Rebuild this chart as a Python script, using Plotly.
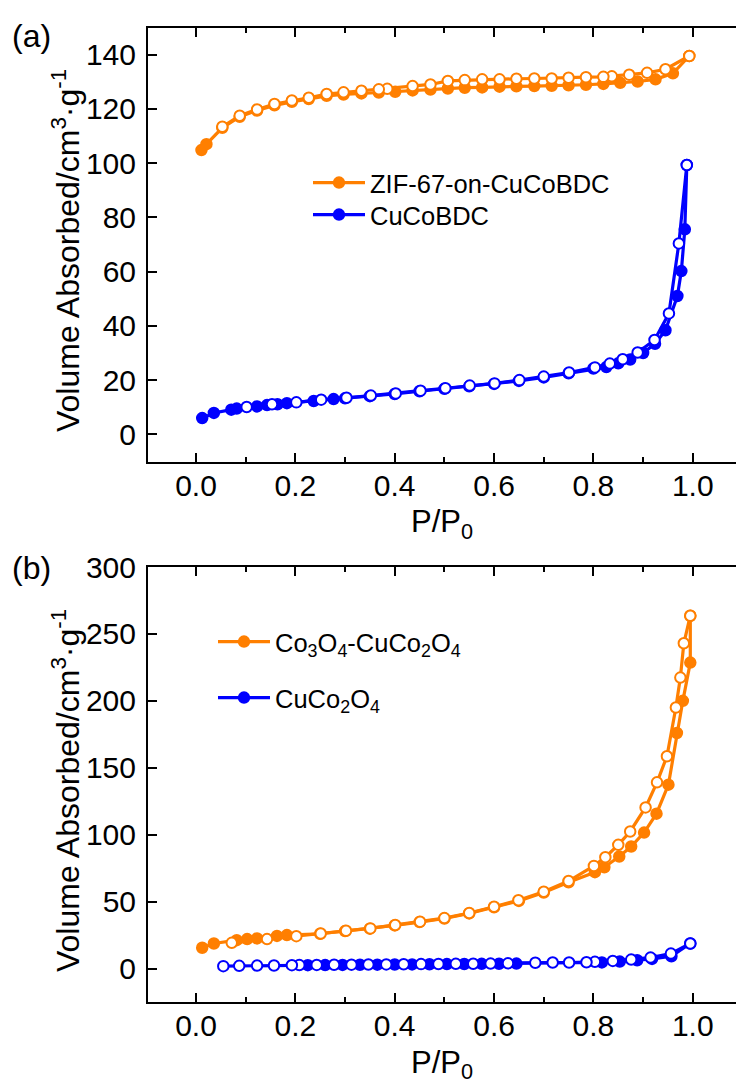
import plotly.graph_objects as go

# ---------------- Panel (a) data ----------------
zif_ads_p = [0.011, 0.021, 0.053, 0.088, 0.123, 0.158, 0.193, 0.227, 0.263, 0.297, 0.333, 0.368,
             0.401, 0.436, 0.472, 0.507, 0.541, 0.576, 0.611, 0.645, 0.681, 0.716, 0.75, 0.785,
             0.82, 0.854, 0.889, 0.925, 0.96, 0.993]
zif_ads_v = [104.8, 107.0, 113.0, 117.1, 119.4, 121.3, 122.6, 123.6, 124.8, 125.3, 125.7, 126.0,
             126.3, 126.8, 127.1, 127.5, 127.8, 127.9, 128.2, 128.3, 128.4, 128.5, 128.7, 128.9,
             129.2, 129.6, 130.1, 130.9, 133.1, 139.5]
zif_des_p = [0.993, 0.945, 0.908, 0.872, 0.837, 0.82, 0.785, 0.75, 0.716, 0.681, 0.645, 0.611,
             0.576, 0.541, 0.507, 0.472, 0.436, 0.385, 0.368, 0.333, 0.297, 0.263, 0.227, 0.193,
             0.158, 0.123, 0.088, 0.053]
zif_des_v = [139.5, 134.6, 133.3, 132.6, 132.0, 131.8, 131.7, 131.5, 131.2, 131.2, 131.1, 130.9,
             130.9, 130.6, 130.3, 129.0, 128.4, 127.4, 127.2, 126.7, 126.1, 125.5, 124.1, 123.1,
             121.8, 119.8, 117.5, 113.4]

cubdc_ads_p = [0.0125, 0.036, 0.071, 0.082, 0.123, 0.143, 0.164, 0.183, 0.237, 0.277, 0.30, 0.35,
               0.40, 0.45, 0.50, 0.55, 0.60, 0.65, 0.70, 0.75, 0.80, 0.826, 0.85, 0.874, 0.90,
               0.924, 0.945, 0.969, 0.977, 0.984, 0.988]
cubdc_ads_v = [6.0, 7.9, 9.1, 9.5, 10.3, 10.8, 11.1, 11.5, 12.3, 13.0, 13.3, 14.1,
               14.9, 15.9, 16.8, 17.7, 18.6, 19.7, 21.0, 22.5, 24.3, 24.8, 26.2, 27.6, 30.0,
               33.4, 38.4, 51.0, 60.2, 75.6, 99.3]
cubdc_des_p = [0.988, 0.972, 0.952, 0.923, 0.889, 0.859, 0.833, 0.803, 0.751, 0.70, 0.651, 0.601,
               0.551, 0.502, 0.452, 0.402, 0.352, 0.303, 0.252, 0.202, 0.153, 0.102]
cubdc_des_v = [99.3, 70.4, 44.6, 34.8, 30.2, 27.7, 26.1, 24.7, 22.8, 21.3, 20.0, 18.8,
               18.0, 17.0, 16.1, 15.1, 14.3, 13.5, 12.8, 11.8, 11.1, 10.1]

# ---------------- Panel (b) data ----------------
co3o4_ads_p = [0.0125, 0.036, 0.082, 0.103, 0.123, 0.163, 0.183, 0.25, 0.30, 0.35, 0.40, 0.45,
               0.50, 0.55, 0.60, 0.65, 0.70, 0.75, 0.803, 0.822, 0.852, 0.876, 0.902, 0.927,
               0.951, 0.968, 0.98, 0.995, 0.995]
co3o4_ads_v = [15.5, 18.7, 21.2, 22.0, 22.5, 24.4, 25.0, 26.0, 28.0, 29.8, 32.2, 34.7,
               37.4, 41.2, 45.8, 50.5, 56.8, 64.5, 72.0, 75.7, 83.7, 91.2, 101.6, 115.7,
               137.4, 176.0, 200.0, 228.6, 263.6]
co3o4_des_p = [0.995, 0.982, 0.975, 0.966, 0.948, 0.928, 0.905, 0.874, 0.85, 0.824, 0.801, 0.75,
               0.70, 0.649, 0.60, 0.55, 0.50, 0.451, 0.401, 0.351, 0.302, 0.251, 0.202, 0.143,
               0.072]
co3o4_des_v = [263.6, 243.0, 217.4, 195.0, 158.6, 139.1, 120.4, 102.4, 92.4, 83.2, 76.7, 65.4,
               57.4, 51.0, 46.2, 41.5, 37.7, 35.0, 32.5, 30.0, 28.2, 26.2, 24.2, 22.0,
               19.2]

cuco_ads_p = [0.225, 0.26, 0.295, 0.33, 0.365, 0.40, 0.435, 0.47, 0.505, 0.54, 0.575, 0.61,
              0.645, 0.817, 0.853, 0.888, 0.918, 0.957, 0.995]
cuco_ads_v = [2.5, 2.6, 2.7, 2.8, 2.9, 3.0, 3.1, 3.2, 3.3, 3.4, 3.5, 3.6,
              3.7, 4.6, 5.2, 6.2, 7.2, 9.2, 18.7]
cuco_des_p = [0.995, 0.956, 0.915, 0.876, 0.839, 0.803, 0.786, 0.751, 0.718, 0.683, 0.628, 0.593,
              0.558, 0.523, 0.488, 0.453, 0.418, 0.383, 0.347, 0.313, 0.278, 0.243, 0.208, 0.193,
              0.157, 0.123, 0.087, 0.055]
cuco_des_v = [18.7, 11.2, 8.2, 6.7, 5.7, 5.0, 4.7, 4.5, 4.5, 4.3, 3.9, 3.7,
              3.6, 3.5, 3.4, 3.3, 3.2, 3.1, 3.0, 2.9, 2.8, 2.7, 2.6, 2.5,
              2.3, 2.2, 2.0, 1.8]

y_ticks_a = [0, 20, 40, 60, 80, 100, 120, 140]
y_ticks_b = [0, 50, 100, 150, 200, 250, 300]
x_ticks = [0.0, 0.2, 0.4, 0.6, 0.8, 1.0]
y_title = "Volume Absorbed/cm<sup>3</sup>·g<sup>-1</sup>"
x_title = "P/P<sub>0</sub>"

ORANGE = "#FF7F00"
BLUE = "#0000FF"
FONT = "Liberation Sans, Arial, sans-serif"

fig = go.Figure()


def add(x, y, color, filled, xa, ya, name=None, legend=None):
    fig.add_trace(go.Scatter(
        x=x, y=y, mode="lines+markers", name=name,
        line=dict(color=color, width=3.2),
        marker=dict(symbol="circle", size=10.5,
                    color=color if filled else "white",
                    line=dict(color=color, width=2)),
        xaxis=xa, yaxis=ya,
        showlegend=legend is not None,
        legend=legend if legend is not None else "legend",
    ))


add(zif_ads_p, zif_ads_v, ORANGE, True, "x", "y", "ZIF-67-on-CuCoBDC", "legend")
add(zif_des_p, zif_des_v, ORANGE, False, "x", "y")
add(cubdc_ads_p, cubdc_ads_v, BLUE, True, "x", "y", "CuCoBDC", "legend2")
add(cubdc_des_p, cubdc_des_v, BLUE, False, "x", "y")
add(co3o4_ads_p, co3o4_ads_v, ORANGE, True, "x2", "y2",
    "Co<sub>3</sub>O<sub>4</sub>-CuCo<sub>2</sub>O<sub>4</sub>", "legend3")
add(co3o4_des_p, co3o4_des_v, ORANGE, False, "x2", "y2")
add(cuco_ads_p, cuco_ads_v, BLUE, True, "x2", "y2", "CuCo<sub>2</sub>O<sub>4</sub>", "legend4")
add(cuco_des_p, cuco_des_v, BLUE, False, "x2", "y2")

W, H = 736, 1090
XDOM = [148 / W, 1.0]
YDOM_A = [1 - 461.5 / H, 1 - 27.5 / H]
YDOM_B = [1 - 1002 / H, 1 - 567 / H]
XR = [-0.0966, 1.087]

TICK_SIZE = 30
TITLE_SIZE = 31
YTITLE_SIZE = 32

xcommon = dict(range=XR, tickvals=x_ticks, ticktext=[f"{v:.1f}" for v in x_ticks],
               ticks="inside", ticklen=9, tickwidth=2, tickcolor="black",
               minor=dict(tickvals=[0.1, 0.3, 0.5, 0.7, 0.9], ticks="inside", ticklen=5,
                          tickwidth=2, tickcolor="black"),
               showline=True, linecolor="black", linewidth=2, mirror="ticks",
               showgrid=False, zeroline=False, ticklabelstandoff=-4, automargin=False,
               tickfont=dict(family=FONT, size=TICK_SIZE, color="black"),
               title=dict(text=x_title,
                          font=dict(family=FONT, size=TITLE_SIZE, color="black"),
                          standoff=10))
ycommon = dict(ticks="inside", ticklen=9, tickwidth=2, tickcolor="black",
               showline=True, linecolor="black", linewidth=2,
               showgrid=False, zeroline=False, ticklabelstandoff=4, automargin=False,
               tickfont=dict(family=FONT, size=TICK_SIZE, color="black"))

fig.update_layout(
    width=W, height=H,
    margin=dict(l=0, r=0, t=0, b=0, autoexpand=False),
    paper_bgcolor="white", plot_bgcolor="white",
    font=dict(family=FONT, color="black"),
    xaxis=dict(domain=XDOM, anchor="y", **xcommon),
    yaxis=dict(domain=YDOM_A, anchor="x", range=[-10, 150], tickvals=y_ticks_a, **ycommon),
    xaxis2=dict(domain=XDOM, anchor="y2", **xcommon),
    yaxis2=dict(domain=YDOM_B, anchor="x2", range=[-25, 300], tickvals=y_ticks_b, **ycommon),
)

leg_common = dict(xanchor="left", yanchor="middle", bgcolor="rgba(0,0,0,0)",
                  font=dict(family=FONT, size=25.5, color="black"), itemwidth=52)
fig.update_layout(
    legend=dict(x=308 / W, y=1 - 183 / H, **leg_common),
    legend2=dict(x=308 / W, y=1 - 215 / H, **leg_common),
    legend3=dict(x=213 / W, y=1 - 642 / H, **leg_common),
    legend4=dict(x=213 / W, y=1 - 698 / H, **leg_common),
)

# y-axis titles (rotated)
for yc in (251, 791):
    fig.add_annotation(text=y_title, x=66 / W, y=1 - yc / H, xref="paper", yref="paper",
                       xanchor="center", yanchor="middle", textangle=-90, showarrow=False,
                       font=dict(family=FONT, size=YTITLE_SIZE, color="black"))

fig.add_annotation(text="(a)", x=10 / W, y=1 - 36 / H, xref="paper", yref="paper",
                   xanchor="left", yanchor="middle", showarrow=False,
                   font=dict(family=FONT, size=32, color="black"))
fig.add_annotation(text="(b)", x=10 / W, y=1 - 568 / H, xref="paper", yref="paper",
                   xanchor="left", yanchor="middle", showarrow=False,
                   font=dict(family=FONT, size=32, color="black"))

fig.write_html("out.html")
